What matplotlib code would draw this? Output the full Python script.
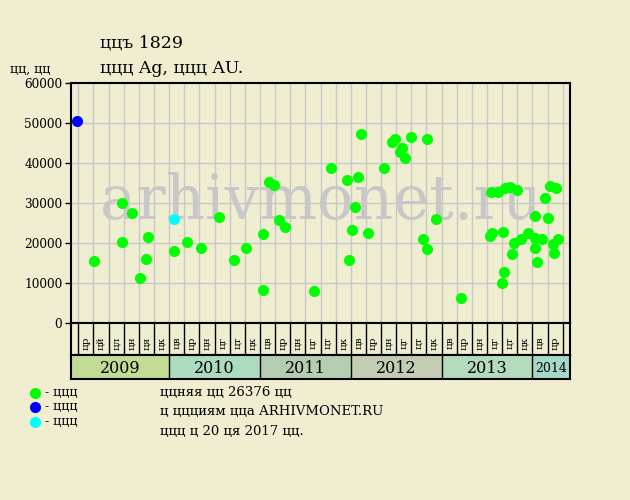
import matplotlib
matplotlib.use("Agg")
import matplotlib.pyplot as plt

# months counted from the first grid line (each grid cell = 2 months)
green_x = [2.1, 5.8, 5.8, 7.1, 8.15, 8.9, 9.25, 12.7, 14.36, 16.25, 18.55, 20.57, 22.2,
           24.44, 24.44, 25.2, 25.9, 26.55, 27.3, 31.2, 33.4, 35.5, 35.8, 36.2, 36.5,
           37.0, 37.35, 38.3, 40.4, 41.5, 41.8, 42.5, 42.8, 43.1, 44.0, 45.6, 46.06,
           46.06, 47.25, 50.5, 54.4, 54.5, 54.6, 55.4, 56.0, 56.05, 56.3, 56.4, 57.0,
           57.3, 57.6, 57.9, 58.5, 59.4, 60.3, 60.3, 60.3, 60.6, 61.3, 61.6, 62.1,
           62.3, 62.7, 62.8, 63.1, 63.4]
green_y = [15500, 30000, 20400, 27500, 11250, 16000, 21500, 18000, 20400, 18750, 26600,
           15750, 18750, 22250, 8250, 35250, 34500, 25800, 24000, 8100, 38750, 35800,
           15750, 23400, 29000, 36700, 47250, 22500, 38750, 45300, 46000, 42900, 43750,
           41400, 46500, 21000, 18500, 46200, 26000, 6250, 21900, 32750, 22600, 32900,
           10000, 22900, 12750, 33750, 34100, 17250, 20000, 33400, 21100, 22500, 26750,
           21250, 18750, 15250, 21100, 31400, 26250, 34250, 19750, 17650, 33750, 21000]
blue_x = [-0.13]
blue_y = [50500]
cyan_x = [12.7]
cyan_y = [26100]

years = ["2009", "2010", "2011", "2012", "2013", "2014"]
year_edges = [-1, 12, 24, 36, 48, 60, 65]
year_colors = ["#c2dc98", "#acdcc0", "#b4ccb0", "#c4ccb4", "#b4dcbc", "#a4d8c8"]
month_labels = ["цр", "цй", "цл", "цн", "ця", "цк"] + ["цв", "цр", "цн", "цг", "цт", "цк"] * 4 + ["цв", "цр"]

bg = "#f0eed0"
serif = "DejaVu Serif"
plt.rcParams["font.family"] = serif

fig = plt.figure(figsize=(6.3, 5), dpi=100, facecolor=bg)

L, R = 70.7 / 630, 570.3 / 630
ax = fig.add_axes([L, (500 - 323.3) / 500, R - L, 240 / 500], facecolor=bg)
ax.set_xlim(-1, 65)
ax.set_ylim(0, 60000)
for gx in range(0, 65, 2):
    ax.axvline(gx, color="#c8c8c8", lw=1, zorder=0)
for gy in range(10000, 60000, 10000):
    ax.axhline(gy, color="#c8c8c8", lw=1, zorder=0)
ax.text(32, 26000, "arhivmonet.ru", fontsize=44, color="#c8c8c8", ha="center",
        va="baseline", zorder=1)
ax.plot(green_x, green_y, "o", color="#00ff00", ms=8, mec="none", zorder=3)
ax.plot(blue_x, blue_y, "o", color="#0000ff", ms=8, mec="none", zorder=3)
ax.plot(cyan_x, cyan_y, "o", color="#00ffff", ms=8, mec="none", zorder=3)
ax.set_xticks([])
ax.set_yticks(range(0, 60001, 10000))
ax.tick_params(axis="y", length=4, width=1, labelsize=8.7, pad=2)
for s in ax.spines.values():
    s.set_linewidth(1.5)

# month row
axm = fig.add_axes([L, (500 - 355) / 500, R - L, 31.7 / 500], facecolor=bg)
axm.set_xlim(-1, 65)
axm.set_ylim(0, 1)
axm.set_xticks([])
axm.set_yticks([])
for gx in range(0, 65, 2):
    axm.axvline(gx, color="black", lw=1)
for i, lab in enumerate(month_labels):
    axm.text(2 * i + 1, 0.38, lab, rotation=90, fontsize=7.5, ha="center", va="center")
for s in axm.spines.values():
    s.set_linewidth(1.5)

# year row
axy = fig.add_axes([L, (500 - 379) / 500, R - L, 24 / 500], facecolor=bg)
axy.set_xlim(-1, 65)
axy.set_ylim(0, 1)
axy.set_xticks([])
axy.set_yticks([])
for i, yr in enumerate(years):
    x0, x1 = year_edges[i], year_edges[i + 1]
    axy.axvspan(x0, x1, color=year_colors[i], lw=0)
    if i > 0:
        axy.axvline(x0, color="black", lw=1)
    axy.text((x0 + x1) / 2, 0.45, yr, fontsize=11.5 if i < 5 else 9,
             ha="center", va="center")
for s in axy.spines.values():
    s.set_linewidth(1.5)

# titles
fig.text(100 / 630, 1 - 48 / 500, "ццъ 1829", fontsize=12.5, va="baseline")
fig.text(100 / 630, 1 - 73 / 500, "ццц Ag, ццц AU.", fontsize=12.5, va="baseline")
fig.text(10 / 630, 1 - 73 / 500, "цц, цц", fontsize=9, va="baseline")

# legend
for yy, c in zip([392.7, 406.7, 421.7], ["#00ff00", "#0000ff", "#00ffff"]):
    fig.lines.append(plt.Line2D([35 / 630], [1 - yy / 500], marker="o", color=c,
                                ms=8, mec="none", transform=fig.transFigure))
    fig.text(45 / 630, 1 - yy / 500, "- ццц", fontsize=9, va="center")

fig.text(160 / 630, 1 - 392.7 / 500, "ццняя цц 26376 цц", fontsize=9.5, va="center")
fig.text(160 / 630, 1 - 411.7 / 500, "ц ццциям цца ARHIVMONET.RU", fontsize=9.5, va="center")
fig.text(160 / 630, 1 - 431.7 / 500, "ццц ц 20 ця 2017 цц.", fontsize=9.5, va="center")

fig.savefig("out.png", dpi=100, facecolor=bg)
